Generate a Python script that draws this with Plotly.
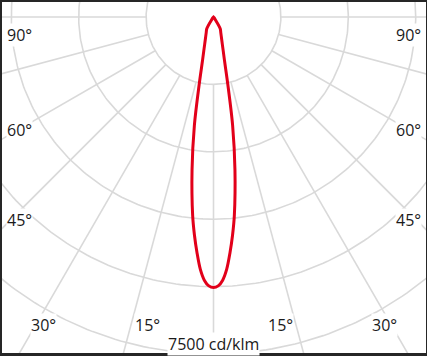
import numpy as np
import plotly.graph_objects as go

# ---- data ----
# luminous intensity (cd/klm) versus angle from nadir (deg), one half-plane
gamma_deg = [0, 1, 2, 3, 4, 5, 6, 8, 10, 12, 14, 16, 18, 20, 25, 30, 35, 40,
             45, 50, 60, 70, 80, 90, 100, 120, 140, 160, 180]
intensity = [6020, 5985, 5860, 5620, 5260, 4870, 4440, 3430, 2450, 1530, 1028,
             785, 634, 533, 384, 300, 60, 20, 8, 0, 0, 0, 0, 0, 0, 0, 0, 0, 0]

ring_values = [1500, 3000, 4500, 6000, 7500]
spoke_angles = list(range(0, 360, 15))
spoke_start = 1500
spoke_end = 12000

left_labels = ["90°", "60°", "45°"]
right_labels = ["90°", "60°", "45°"]
bottom_labels = ["30°", "15°", "15°", "30°"]
scale_label = "7500 cd/klm"

# ---- geometry helpers ----
def to_xy(r, g_deg):
    g = np.radians(g_deg)
    return r * np.sin(g), -r * np.cos(g)

# full curve: mirror the half plane onto the other side
g_full = [-g for g in gamma_deg[::-1]] + gamma_deg[1:]
i_full = intensity[::-1] + intensity[1:]
cx, cy = to_xy(np.array(i_full, float), np.array(g_full, float))

# rings
rx, ry = [], []
t = np.linspace(0, 360, 361)
for rv in ring_values:
    x, y = to_xy(rv, t)
    rx += list(x) + [None]
    ry += list(y) + [None]

# spokes
sx, sy = [], []
for a in spoke_angles:
    x0, y0 = to_xy(spoke_start, a)
    x1, y1 = to_xy(spoke_end, a)
    sx += [x0, x1, None]
    sy += [y0, y1, None]

grid_col = "#d9d9d9"
fig = go.Figure()
fig.add_trace(go.Scatter(x=rx, y=ry, mode="lines",
                         line=dict(color=grid_col, width=1.6),
                         hoverinfo="skip", showlegend=False))
fig.add_trace(go.Scatter(x=sx, y=sy, mode="lines",
                         line=dict(color=grid_col, width=1.6),
                         hoverinfo="skip", showlegend=False))
fig.add_trace(go.Scatter(x=cx, y=cy, mode="lines",
                         line=dict(color="#e2001a", width=3,
                                   shape="spline", smoothing=0.9),
                         hoverinfo="skip", showlegend=False))

# plot area pixel geometry
W, H = 427, 356
ml, mr, mt, mb = 2, 1, 2, 3
pw, ph = W - ml - mr, H - mt - mb
px_per_unit = 67.4 / 1500.0
cpx, cpy = 213.5, 17.0  # centre in page pixels
x_range = [(ml - cpx) / px_per_unit, (W - mr - cpx) / px_per_unit]
y_range = [-(H - mb - cpy) / px_per_unit, (cpy - mt) / px_per_unit]

def px_to_paper(px, py):
    return (px - ml) / pw, (H - mb - py) / ph

font = dict(family="Open Sans", size=16, color="#1a1a1a")
ann = []
for txt, py in zip(left_labels, [35, 130, 220]):
    x, y = px_to_paper(6, py)
    ann.append(dict(text=txt, x=x, y=y, xanchor="left", yanchor="middle"))
for txt, py in zip(right_labels, [35, 130, 220]):
    x, y = px_to_paper(422, py)
    ann.append(dict(text=txt, x=x, y=y, xanchor="right", yanchor="middle"))
for txt, px in zip(bottom_labels, [43.5, 147.5, 280, 384]):
    x, y = px_to_paper(px, 325)
    ann.append(dict(text=txt, x=x, y=y, xanchor="center", yanchor="middle"))
x, y = px_to_paper(213.5, 344)
ann.append(dict(text=scale_label, x=x, y=y, xanchor="center", yanchor="middle"))
for a in ann:
    a.update(xref="paper", yref="paper", showarrow=False, font=font,
             bgcolor="white", borderpad=0)

fig.update_layout(
    width=W, height=H,
    margin=dict(l=ml, r=mr, t=mt, b=mb, pad=0),
    paper_bgcolor="#262626", plot_bgcolor="white",
    xaxis=dict(range=x_range, visible=False, fixedrange=True),
    yaxis=dict(range=y_range, visible=False, fixedrange=True),
    annotations=ann,
)
fig.write_html(
    "out.html",
    config={"displayModeBar": False},
    post_script="document.body.style.margin='0';document.body.style.overflow='hidden';",
)
